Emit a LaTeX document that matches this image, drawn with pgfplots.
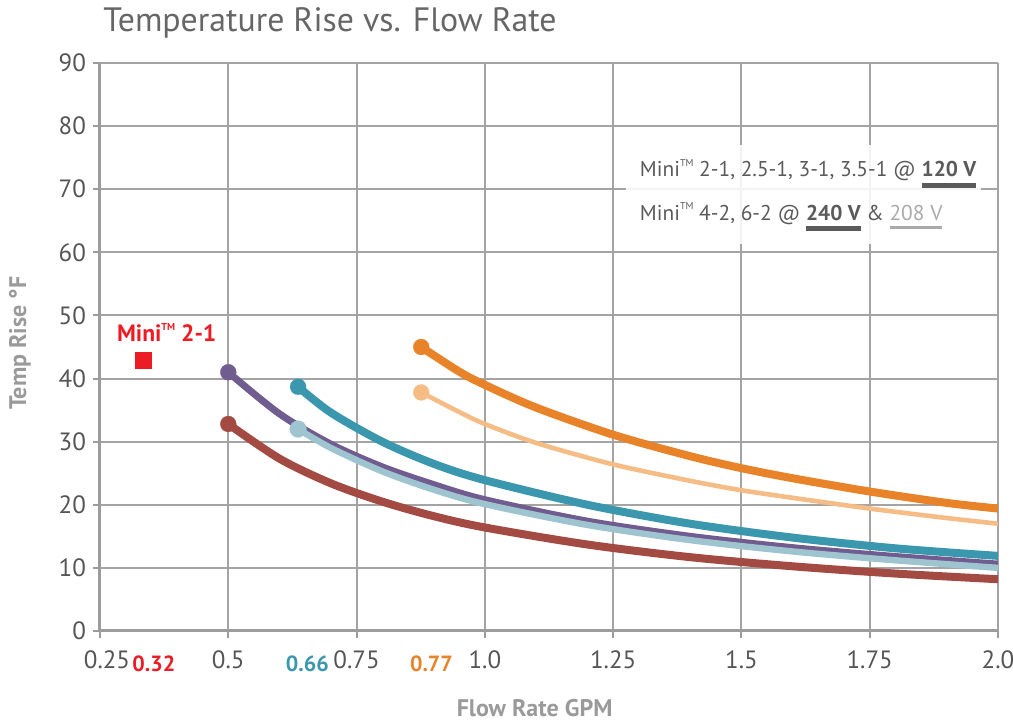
\documentclass[border=0pt]{standalone}
\usepackage{pgfplots}
\pgfplotsset{compat=1.18}
\usepackage{fontspec}
\setmainfont{PT Sans}
\definecolor{cor}{HTML}{E8832A}
\definecolor{clor}{HTML}{F5BC86}
\definecolor{cteal}{HTML}{3A97AD}
\definecolor{cpur}{HTML}{705C8F}
\definecolor{clb}{HTML}{9EC4D0}
\definecolor{cbrick}{HTML}{A34B43}
\definecolor{cred}{HTML}{ED1C24}
\definecolor{titlegray}{HTML}{666666}
\definecolor{tickgray}{HTML}{555555}
\definecolor{labgray}{HTML}{9A9A9A}
\definecolor{axgray}{HTML}{9C9C9C}
\definecolor{gridgray}{HTML}{A4A4A4}
\definecolor{legdark}{HTML}{5A5A5A}
\definecolor{leglight}{HTML}{AAAAAA}
\newcommand{\ubar}[3]{\setbox0\hbox{#3}\vtop{\offinterlineskip\copy0\kern2.8pt\hbox{\color{#1}\rule{\wd0}{#2}}}}
\newcommand{\tm}{\raisebox{0.5em}{\fontsize{5}{5}\selectfont TM}}
\begin{document}
\begin{tikzpicture}
\path[use as bounding box] (-50pt,-45pt) rectangle (456.5pt,315.5pt);
\begin{axis}[
  scale only axis, width=449pt, height=284pt,
  xmin=0.25, xmax=2.0, ymin=0, ymax=90,
  axis x line*=bottom, axis y line*=left,
  axis line style={draw=axgray, line width=1.5pt, -},
  xtick={0.25,0.5,0.75,1.0,1.25,1.5,1.75,2.0},
  xticklabels={\hspace{7pt}0.25,0.5,0.75,1.0,1.25,1.5,1.75,2.0},
  ytick={0,10,20,30,40,50,60,70,80,90},
  grid=major, grid style={gridgray, line width=1pt},
  tick align=outside, major tick length=3.5pt,
  tick style={axgray, line width=1pt},
  ticklabel style={font=\fontsize{12.5}{14}\selectfont, text=tickgray},
  xticklabel style={yshift=-3pt},
  /pgf/number format/assume math mode=true,
  clip=false,
]
% brick
\addplot[cbrick, line width=4pt, smooth, mark=*, mark indices={1}, mark size=4pt, mark options={line width=0.1pt}] coordinates {
(0.5,32.8) (0.6,27.3) (0.7,23.4) (0.8,20.5) (0.9,18.2) (1.0,16.4) (1.2,13.7) (1.4,11.7) (1.6,10.25) (1.8,9.1) (2.0,8.2)};
% purple
\addplot[cpur, line width=3.5pt, smooth, mark=*, mark indices={1}, mark size=4pt, mark options={line width=0.1pt}] coordinates {
(0.5,41.0) (0.6,34.4) (0.7,29.6) (0.8,26.0) (0.9,23.2) (1.0,20.8) (1.2,17.4) (1.4,15.0) (1.6,13.2) (1.8,11.8) (2.0,10.6)};
% light blue
\addplot[clb, line width=3.2pt, smooth, mark=*, mark indices={1}, mark size=4.2pt, mark options={line width=0.1pt}] coordinates {
(0.636,32.0) (0.7,29.0) (0.8,25.3) (0.9,22.4) (1.0,20.1) (1.2,16.8) (1.4,14.4) (1.6,12.6) (1.8,11.2) (2.0,10.0)};
% teal
\addplot[cteal, line width=4pt, smooth, mark=*, mark indices={1}, mark size=4pt, mark options={line width=0.1pt}] coordinates {
(0.636,38.7) (0.7,34.6) (0.8,30.0) (0.9,26.5) (1.0,23.9) (1.2,20.0) (1.4,17.0) (1.6,14.8) (1.8,13.1) (2.0,11.9)};
% light orange
\addplot[clor, line width=2.3pt, smooth, mark=*, mark indices={1}, mark size=4pt, mark options={line width=0.1pt}] coordinates {
(0.876,37.8) (0.95,34.7) (1.0,32.8) (1.1,29.8) (1.25,26.4) (1.4,23.8) (1.5,22.3) (1.6,21.1) (1.75,19.4) (1.9,17.9) (2.0,17.0)};
% orange
\addplot[cor, line width=4pt, smooth, mark=*, mark indices={1}, mark size=4pt, mark options={line width=0.1pt}] coordinates {
(0.876,45.0) (0.95,41.1) (1.0,39.0) (1.1,35.4) (1.25,31.1) (1.4,27.7) (1.5,25.8) (1.6,24.2) (1.75,22.1) (1.9,20.3) (2.0,19.4)};
% red square
\addplot[only marks, mark=square*, mark size=4pt, cred, mark options={line width=0.1pt}] coordinates {(0.334,42.9)};
\node[anchor=base, text=cred, font=\fontsize{11.8}{14}\selectfont\bfseries] at (axis cs:0.380,45.8) {Mini\tm\ 2-1};
% legend box
\fill[white, opacity=0.88] (axis cs:1.276,61.3) rectangle (axis cs:1.967,77.0);
\node[anchor=base west, inner sep=0pt, text=legdark, font=\fontsize{10.7}{13}\selectfont] at (axis cs:1.3015,71.95)
  {Mini\tm\ 2-1, 2.5-1, 3-1, 3.5-1 @ \ubar{legdark}{2.5pt}{\bfseries 120 V}};
\node[anchor=base west, inner sep=0pt, text=legdark, font=\fontsize{10.7}{13}\selectfont] at (axis cs:1.3015,65.1)
  {Mini\tm\ 4-2, 6-2 @ \ubar{legdark}{2.5pt}{\bfseries 240 V} \& \ubar{leglight}{1.5pt}{\color{leglight}208 V}};
% coloured flow labels
\node[anchor=base, text=cred, font=\fontsize{11}{12}\selectfont\bfseries] at (axis cs:0.355,0) [yshift=-20.5pt] {0.32};
\node[anchor=base, text=cteal, font=\fontsize{11}{12}\selectfont\bfseries] at (axis cs:0.654,0) [yshift=-20.5pt] {0.66};
\node[anchor=base, text=cor, font=\fontsize{11}{12}\selectfont\bfseries] at (axis cs:0.896,0) [yshift=-20.5pt] {0.77};
% axis labels
\node[rotate=90, text=labgray, font=\fontsize{12}{14}\selectfont\bfseries] at (axis cs:0.094,45.6) {Temp Rise °F};
\node[text=labgray, font=\fontsize{12}{14}\selectfont\bfseries] at (axis cs:1.097,-12.2) {Flow Rate GPM};
% title
\node[anchor=base west, inner sep=0pt, text=titlegray, font=\fontsize{16.9}{19}\selectfont] at (rel axis cs:0,1) [xshift=1.5pt, yshift=15.5pt] {Temperature Rise vs. Flow Rate};
\end{axis}
\end{tikzpicture}
\end{document}
